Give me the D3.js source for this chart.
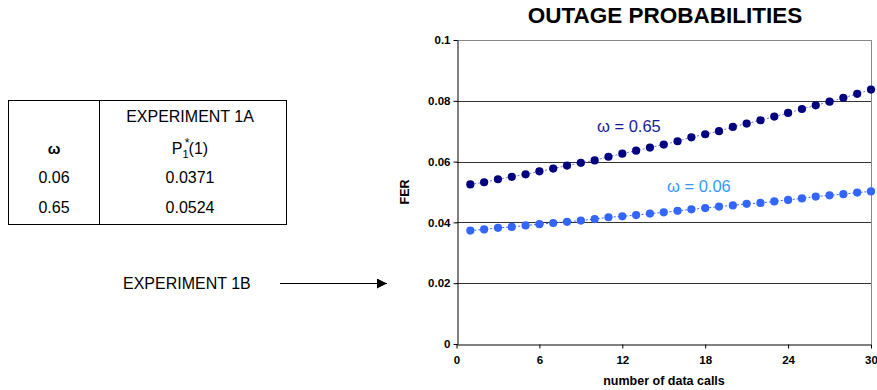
<!DOCTYPE html>
<html>
<head>
<meta charset="utf-8">
<script src="https://cdn.jsdelivr.net/npm/d3@7"></script>
<style>
  body { margin: 0; background: #fff; }
  svg { font-family: Arial, "Liberation Sans", sans-serif; }
</style>
</head>
<body>
<script>
// chart values
let calls = d3.range(1, 31);
let fer065 = [0.0525, 0.0532, 0.0542, 0.0550, 0.0558, 0.0568, 0.0577, 0.0587, 0.0596, 0.0604,
              0.0616, 0.0626, 0.0636, 0.0646, 0.0656, 0.0667, 0.0680, 0.0690, 0.0700, 0.0714,
              0.0725, 0.0736, 0.0748, 0.0760, 0.0773, 0.0785, 0.0797, 0.0810, 0.0823, 0.0837];
let fer006 = [0.0373, 0.0377, 0.0382, 0.0385, 0.0390, 0.0394, 0.0398, 0.0402, 0.0406, 0.0411,
              0.0417, 0.0420, 0.0424, 0.0429, 0.0433, 0.0438, 0.0443, 0.0447, 0.0452, 0.0456,
              0.0461, 0.0464, 0.0469, 0.0474, 0.0479, 0.0485, 0.0489, 0.0493, 0.0498, 0.0502];
let xTicks = [0, 6, 12, 18, 24, 30];
let yTicks = [0, 0.02, 0.04, 0.06, 0.08, 0.1];
let tableOmega = ['0.06', '0.65'];
let tableP = ['0.0371', '0.0524'];

let w = 877, h = 390;
let svg = d3.select('body').append('svg')
  .attr('width', w)
  .attr('height', h);

// ---- table (experiment 1A) ----
let table = svg.append('g');
table.append('rect')
  .attr('x', 8.5).attr('y', 100.5)
  .attr('width', 278).attr('height', 124)
  .attr('fill', 'none').attr('stroke', '#000').attr('stroke-width', 1);
table.append('line')
  .attr('x1', 99.5).attr('x2', 99.5).attr('y1', 100.5).attr('y2', 224.5)
  .attr('stroke', '#000');

table.append('text')
  .attr('x', 190).attr('y', 122)
  .attr('text-anchor', 'middle')
  .style('font-size', '16px')
  .text('EXPERIMENT 1A');

table.append('text')
  .attr('x', 54).attr('y', 154)
  .attr('text-anchor', 'middle')
  .style('font-size', '15px')
  .style('font-weight', 'bold')
  .text('ω');

// P with subscript 1, star placed above the subscript
let ph = table.append('text')
  .attr('x', 190).attr('y', 154)
  .attr('text-anchor', 'middle')
  .style('font-size', '16px');
ph.append('tspan').text('P');
ph.append('tspan').attr('dy', 4).style('font-size', '11px').text('1');
ph.append('tspan').attr('dy', -4).text('(1)');

table.append('text')
  .attr('x', 187).attr('y', 147)
  .attr('text-anchor', 'middle')
  .style('font-size', '12px')
  .text('*');

table.selectAll('.om')
  .data(tableOmega)
  .enter()
  .append('text')
  .attr('x', 54)
  .attr('y', (d, i) => 183 + i * 30)
  .attr('text-anchor', 'middle')
  .style('font-size', '16px')
  .text(d => d);

table.selectAll('.pv')
  .data(tableP)
  .enter()
  .append('text')
  .attr('x', 190)
  .attr('y', (d, i) => 183 + i * 30)
  .attr('text-anchor', 'middle')
  .style('font-size', '16px')
  .text(d => d);

// ---- experiment 1B pointer ----
svg.append('text')
  .attr('x', 123).attr('y', 289)
  .style('font-size', '16px')
  .text('EXPERIMENT 1B');

svg.append('defs').append('marker')
  .attr('id', 'arrow')
  .attr('viewBox', '0 0 10 10')
  .attr('refX', 10).attr('refY', 5)
  .attr('markerWidth', 14).attr('markerHeight', 10)
  .attr('markerUnits', 'userSpaceOnUse')
  .attr('orient', 'auto')
  .append('path')
  .attr('d', 'M0,0L10,5L0,10Z')
  .attr('fill', '#000');

svg.append('line')
  .attr('x1', 280).attr('x2', 387)
  .attr('y1', 283.5).attr('y2', 283.5)
  .attr('stroke', '#000')
  .attr('marker-end', 'url(#arrow)');

// ---- chart ----
let x = d3.scaleLinear().domain([0, 30]).range([456.5, 871]);
let y = d3.scaleLinear().domain([0, 0.1]).range([344, 40]);

// gridlines
svg.append('g')
  .selectAll('line')
  .data(yTicks.filter(d => d > 0))
  .enter()
  .append('line')
  .attr('x1', x(0)).attr('x2', x(30))
  .attr('y1', d => Math.round(y(d)) + 0.5)
  .attr('y2', d => Math.round(y(d)) + 0.5)
  .attr('stroke', d => d === 0.1 ? '#888' : '#333');

// right border
svg.append('line')
  .attr('x1', Math.round(x(30)) + 0.5).attr('x2', Math.round(x(30)) + 0.5)
  .attr('y1', y(0.1)).attr('y2', y(0))
  .attr('stroke', '#888');

let fmt = d => d === 0 ? '0' : String(+d.toFixed(2));

svg.append('g')
  .attr('transform', 'translate(' + (Math.round(x(0)) + 0.5) + ',0)')
  .call(d3.axisLeft(y).tickValues(yTicks).tickFormat(fmt).tickSize(4).tickSizeOuter(0).tickPadding(3));

svg.append('g')
  .attr('transform', 'translate(0,' + (Math.round(y(0)) + 0.5) + ')')
  .call(d3.axisBottom(x).tickValues(xTicks).tickSize(4).tickSizeOuter(0).tickPadding(7));

svg.selectAll('.domain, .tick line').attr('stroke', '#000');
svg.selectAll('.tick text')
  .attr('fill', '#000')
  .style('font-size', '11.5px')
  .style('font-weight', 'bold')
  .style('font-family', 'Arial, "Liberation Sans", sans-serif');

// titles
svg.append('text')
  .attr('x', 665).attr('y', 23)
  .attr('text-anchor', 'middle')
  .style('font-size', '22.5px')
  .style('font-weight', 'bold')
  .text('OUTAGE PROBABILITIES');

svg.append('text')
  .attr('x', 664).attr('y', 385)
  .attr('text-anchor', 'middle')
  .style('font-size', '12.5px')
  .style('font-weight', 'bold')
  .text('number of data calls');

svg.append('text')
  .attr('transform', 'translate(409,192)rotate(-90)')
  .attr('text-anchor', 'middle')
  .style('font-size', '12.5px')
  .style('font-weight', 'bold')
  .text('FER');

// series
function series(values, dotColor, lineColor) {
  let pts = calls.map((c, i) => [c, values[i]]);
  svg.append('path')
    .datum(pts)
    .attr('fill', 'none')
    .attr('stroke', lineColor)
    .attr('stroke-width', 1)
    .attr('stroke-dasharray', '2,2')
    .attr('d', d3.line().x(d => x(d[0])).y(d => y(d[1])));

  svg.append('g')
    .selectAll('circle')
    .data(pts)
    .enter()
    .append('circle')
    .attr('cx', d => x(d[0]))
    .attr('cy', d => y(d[1]))
    .attr('r', 4.1)
    .attr('fill', dotColor);
}

series(fer065, '#000080', '#7777cc');
series(fer006, '#3366ff', '#3366ff');

// series labels
svg.append('text')
  .attr('x', 597).attr('y', 132)
  .attr('fill', '#1a1a9c')
  .style('font-size', '16.5px')
  .text('ω = 0.65');

svg.append('text')
  .attr('x', 667).attr('y', 192)
  .attr('fill', '#3399ff')
  .style('font-size', '16.5px')
  .text('ω = 0.06');
</script>
</body>
</html>
